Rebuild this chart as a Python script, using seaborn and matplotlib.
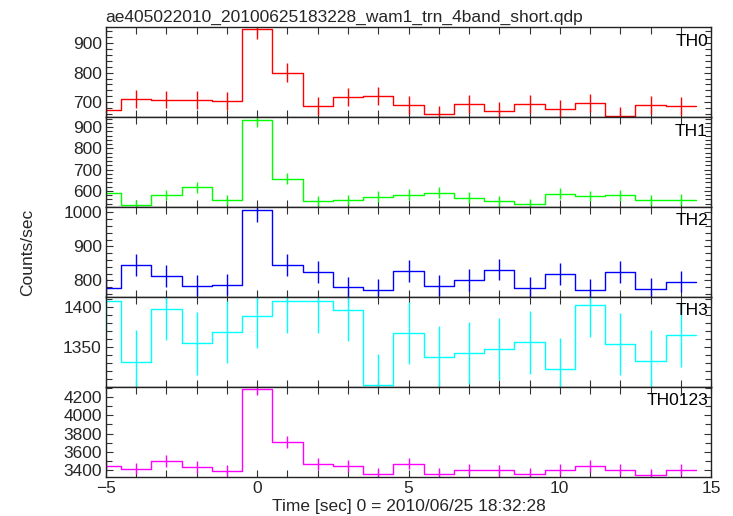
import numpy as np
import pandas as pd
import matplotlib
matplotlib.use("Agg")
import matplotlib.pyplot as plt
from matplotlib.ticker import MultipleLocator
import seaborn as sns

sns.set_theme(style="white")
plt.rcParams['font.family'] = ['Liberation Sans', 'DejaVu Sans']

title = "ae405022010_20100625183228_wam1_trn_4band_short.qdp"
xlabel = "Time [sec] 0 = 2010/06/25 18:32:28"
ylabel = "Counts/sec"

time = [-5, -4, -3, -2, -1, 0, 1, 2, 3, 4, 5, 6, 7, 8, 9, 10, 11, 12, 13, 14]

th0 = [672, 711, 709, 707, 705, 948, 799, 688, 718, 722, 690, 659, 694, 671, 693, 678, 698, 654, 691, 686]
th0_err = [30, 30, 30, 30, 30, 34, 32, 30, 30, 30, 30, 29, 30, 29, 30, 29, 30, 29, 30, 30]
th1 = [592, 534, 581, 617, 556, 935, 657, 554, 555, 573, 582, 592, 568, 550, 539, 587, 576, 579, 557, 559]
th1_err = [25, 24, 25, 26, 24, 32, 27, 24, 24, 25, 25, 25, 25, 24, 24, 25, 25, 25, 24, 24]
th2 = [777, 846, 813, 785, 788, 1007, 846, 825, 780, 772, 828, 784, 802, 832, 778, 820, 772, 824, 775, 796]
th2_err = [31, 32, 32, 31, 31, 35, 32, 32, 31, 31, 32, 31, 32, 32, 31, 32, 31, 32, 31, 31]
th3 = [1408, 1332, 1398, 1355, 1369, 1389, 1408, 1408, 1397, 1303, 1368, 1338, 1343, 1348, 1356, 1323, 1403, 1354, 1333, 1365]
th3_err = [39, 39, 39, 39, 39, 40, 40, 40, 39, 39, 39, 39, 39, 39, 39, 39, 40, 39, 39, 39]
th0123 = [3447, 3418, 3501, 3436, 3393, 4287, 3709, 3469, 3447, 3364, 3473, 3364, 3408, 3400, 3364, 3408, 3447, 3408, 3349, 3408]
th0123_err = [62, 62, 63, 62, 61, 70, 64, 62, 62, 61, 62, 61, 62, 62, 61, 62, 62, 62, 61, 62]

band_names = ["TH0", "TH1", "TH2", "TH3", "TH0123"]
band_vals = [th0, th1, th2, th3, th0123]
band_errs = [th0_err, th1_err, th2_err, th3_err, th0123_err]
colors = ["#ff0000", "#00ff00", "#0000ff", "#00ffff", "#ff00ff"]
ylims = [(649, 953), (523, 947), (751, 1015), (1300.5, 1412.5), (3327, 4309)]
majors = [100, 100, 100, 50, 200]
minors = [20, 20, 20, 10, 100]

fig = plt.figure(figsize=(7.33, 5.16), dpi=100)
left, right, top, bottom = 0.1446, 0.970, 0.947, 0.0757
h = (top - bottom) / 5
axes = []
for i in range(5):
    ax = fig.add_axes([left, top - (i + 1) * h, right - left, h])
    axes.append(ax)

t = np.array(time, dtype=float)
for i, ax in enumerate(axes):
    v = np.array(band_vals[i], dtype=float)
    e = np.array(band_errs[i], dtype=float)
    edges = np.append(t - 0.5, t[-1] + 0.5)
    yy = np.append(v, v[-1])
    df = pd.DataFrame({"x": edges, "y": yy})
    sns.lineplot(data=df, x="x", y="y", ax=ax, drawstyle="steps-post",
                 color=colors[i], lw=1.0, estimator=None, sort=False)
    ax.errorbar(t, v, yerr=e, fmt="none", ecolor=colors[i], elinewidth=1.0, capsize=0)
    ax.set_xlim(-5, 15)
    ax.set_ylim(*ylims[i])
    ax.yaxis.set_major_locator(MultipleLocator(majors[i]))
    ax.yaxis.set_minor_locator(MultipleLocator(minors[i]))
    ax.xaxis.set_major_locator(MultipleLocator(5))
    ax.xaxis.set_minor_locator(MultipleLocator(1))
    ax.tick_params(axis="both", which="both", direction="in", top=True, right=True,
                   bottom=True, left=True, color="#333333")
    ax.tick_params(axis="both", which="major", length=5, width=0.8, labelsize=12.5, pad=3)
    ax.tick_params(axis="both", which="minor", length=4, width=0.8)
    ax.tick_params(axis="x", which="minor", length=5)
    for sp in ax.spines.values():
        sp.set_color("#222222")
        sp.set_linewidth(1.0)
    ax.set_xlabel("")
    ax.set_ylabel("")
    ax.text(0.995, 0.93, band_names[i], transform=ax.transAxes, ha="right", va="top",
            fontsize=12.5, color="black")
    if i < 4:
        ax.tick_params(axis="x", labelbottom=False)

axes[0].set_title(title, loc="left", fontsize=12.5, pad=4, x=-0.002)
axes[-1].set_xlabel(xlabel, fontsize=12.5, labelpad=2)
fig.text(0.038, (top + bottom) / 2, ylabel, rotation=90, ha="center", va="center", fontsize=12.5)

fig.savefig("out.png", dpi=100)
